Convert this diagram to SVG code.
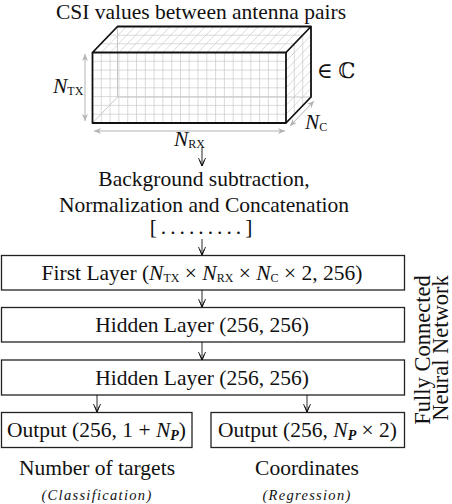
<svg xmlns="http://www.w3.org/2000/svg" width="452" height="504" viewBox="0 0 452 504">
<style>
text{font-family:"Liberation Serif","DejaVu Serif",serif;fill:#111;font-size:21.5px}
.c{text-anchor:middle}
.it{font-style:italic}
.sc{font-size:12px}
.sm{font-size:14px}
.rot{font-size:22.5px}
.lab{font-style:italic;font-size:14.5px;letter-spacing:1.3px}
.box{fill:#fff;stroke:#222;stroke-width:1.3}
.grid{fill:none;stroke:#cacaca;stroke-width:0.7}
.hid{fill:none;stroke:#b8b8b8;stroke-width:0.8}
.edge{fill:none;stroke:#111;stroke-width:1.8;stroke-linejoin:round}
.dim{fill:none;stroke:#b3b3b3;stroke-width:1}
.arr{fill:none;stroke:#111;stroke-width:0.9}
</style>
<defs>
<marker id="ah" markerWidth="10" markerHeight="10" refX="8.5" refY="4.5" orient="auto" markerUnits="userSpaceOnUse">
<path d="M0.5,1 L8.5,4.5 L0.5,8 M2.8,2.2 L8.5,4.5 L2.8,6.8" fill="none" stroke="#111" stroke-width="0.9"/>
</marker>
<marker id="gh" markerWidth="9" markerHeight="8" refX="7" refY="3.5" orient="auto-start-reverse" markerUnits="userSpaceOnUse">
<path d="M0,0.5 L7,3.5 L0,6.5 L2,3.5 z" fill="#b3b3b3"/>
</marker>
</defs>

<g id="tensor">
<text class="c" x="201" y="19">CSI values between antenna pairs</text>
<path class="hid" d="M117.5,26.5 V97 H311 M92.5,123 L117.5,97"/>
<path class="grid" d="M101.3,52.5V123 M110.1,52.5V123 M118.9,52.5V123 M127.7,52.5V123 M136.5,52.5V123 M145.3,52.5V123 M154.1,52.5V123 M162.9,52.5V123 M171.7,52.5V123 M180.5,52.5V123 M189.2,52.5V123 M198,52.5V123 M206.8,52.5V123 M215.6,52.5V123 M224.4,52.5V123 M233.2,52.5V123 M242,52.5V123 M250.8,52.5V123 M259.6,52.5V123 M268.4,52.5V123 M277.2,52.5V123
M92.5,61.3H286 M92.5,70.1H286 M92.5,78.9H286 M92.5,87.8H286 M92.5,96.6H286 M92.5,105.4H286 M92.5,114.2H286
M101.3,52.5l25,-26 M110.1,52.5l25,-26 M118.9,52.5l25,-26 M127.7,52.5l25,-26 M136.5,52.5l25,-26 M145.3,52.5l25,-26 M154.1,52.5l25,-26 M162.9,52.5l25,-26 M171.7,52.5l25,-26 M180.5,52.5l25,-26 M189.2,52.5l25,-26 M198,52.5l25,-26 M206.8,52.5l25,-26 M215.6,52.5l25,-26 M224.4,52.5l25,-26 M233.2,52.5l25,-26 M242,52.5l25,-26 M250.8,52.5l25,-26 M259.6,52.5l25,-26 M268.4,52.5l25,-26 M277.2,52.5l25,-26
M100.8,43.8H294.3 M109.2,35.2H302.7
M294.3,43.8V114.3 M302.7,35.2V105.7
M286,61.3l25,-26 M286,70.1l25,-26 M286,78.9l25,-26 M286,87.8l25,-26 M286,96.6l25,-26 M286,105.4l25,-26 M286,114.2l25,-26"/>
<path class="edge" d="M92.5,52.5H286V123H92.5Z M92.5,52.5L117.5,26.5H311L286,52.5 M311,26.5V97L286,123"/>
<path class="dim" d="M85,54V121" marker-start="url(#gh)" marker-end="url(#gh)"/>
<path class="dim" d="M94,131H285" marker-start="url(#gh)" marker-end="url(#gh)"/>
<path class="dim" d="M290,126L314,101" marker-start="url(#gh)" marker-end="url(#gh)"/>
<text x="53" y="93"><tspan class="it">N</tspan><tspan class="sc" dy="2">TX</tspan></text>
<text x="174" y="146"><tspan class="it">N</tspan><tspan class="sc" dy="2">RX</tspan></text>
<text x="305" y="129"><tspan class="it">N</tspan><tspan class="sc" dy="2">C</tspan></text>
<text x="317" y="78">∈ ℂ</text>
</g>

<g id="preprocess">
<text class="c" x="204" y="186">Background subtraction,</text>
<text class="c" x="204" y="212">Normalization and Concatenation</text>
<text class="c" x="203" y="234" style="letter-spacing:4px">[.........]</text>
</g>

<g id="first-layer">
<rect class="box" x="1.5" y="255.5" width="403" height="34.5"/>
<text class="c" x="202" y="280">First Layer (<tspan class="it">N</tspan><tspan class="sc" dy="2">TX</tspan><tspan dy="-2"> × </tspan><tspan class="it">N</tspan><tspan class="sc" dy="2">RX</tspan><tspan dy="-2"> × </tspan><tspan class="it">N</tspan><tspan class="sc" dy="2">C</tspan><tspan dy="-2"> × 2, 256)</tspan></text>
</g>

<g id="hidden-1">
<rect class="box" x="1.5" y="307.5" width="403" height="34.5"/>
<text class="c" x="202" y="332">Hidden Layer (256, 256)</text>
</g>

<g id="hidden-2">
<rect class="box" x="1.5" y="360" width="403" height="35"/>
<text class="c" x="202" y="385">Hidden Layer (256, 256)</text>
</g>

<g id="output-class">
<rect class="box" x="1.5" y="412.5" width="190.5" height="35"/>
<text class="c" x="96.5" y="437">Output (256, 1 + <tspan class="it">N</tspan><tspan class="it sm" dy="3" font-weight="bold">P</tspan><tspan dy="-3">)</tspan></text>
<text class="c" x="97" y="475">Number of targets</text>
<text class="c lab" x="97" y="500">(Classification)</text>
</g>

<g id="output-reg">
<rect class="box" x="211" y="412.5" width="193.5" height="35"/>
<text class="c" x="307.5" y="437">Output (256, <tspan class="it">N</tspan><tspan class="it sm" dy="3" font-weight="bold">P</tspan><tspan dy="-3"> × 2)</tspan></text>
<text class="c" x="307" y="475">Coordinates</text>
<text class="c lab" x="307" y="500">(Regression)</text>
</g>

<g id="network-label">
<text class="c rot" transform="translate(430,350) rotate(-90)">Fully Connected</text>
<text class="c rot" transform="translate(448,348) rotate(-90)">Neural Network</text>
</g>

<g id="connectors">
<path class="arr" d="M202,147V166" marker-end="url(#ah)"/>
<path class="arr" d="M202,239V255" marker-end="url(#ah)"/>
<path class="arr" d="M202,290V307" marker-end="url(#ah)"/>
<path class="arr" d="M202,342V360" marker-end="url(#ah)"/>
<path class="arr" d="M97,395V412" marker-end="url(#ah)"/>
<path class="arr" d="M307,395V412" marker-end="url(#ah)"/>
</g>
</svg>
